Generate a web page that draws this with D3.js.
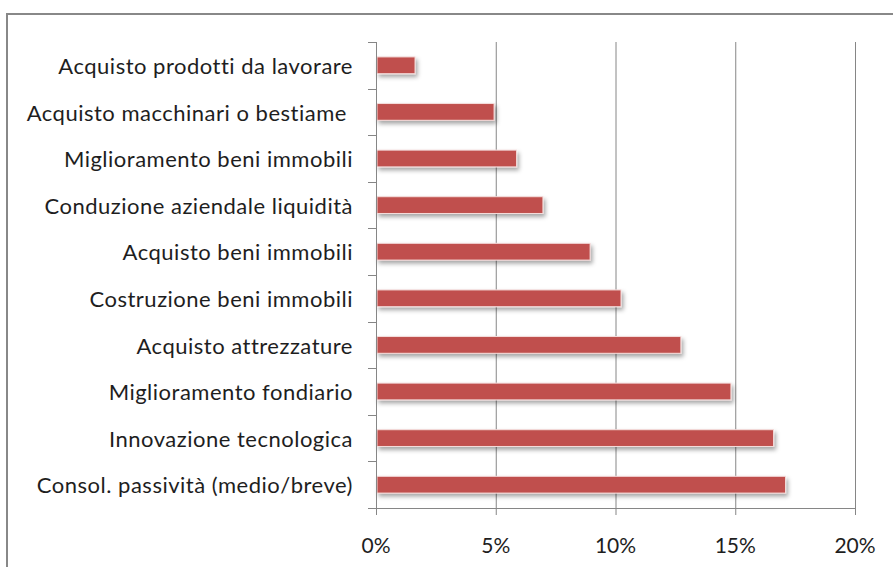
<!DOCTYPE html>
<html>
<head>
<meta charset="utf-8">
<script src="https://cdn.jsdelivr.net/npm/d3@7"></script>
<style>
  body { margin: 0; background: #fff; }
  svg text { font-family: Lato, "Open Sans", sans-serif; fill: #1e1e1e; white-space: pre; }
</style>
</head>
<body>
<div class="chart"></div>
<script>
var width = 893,
    height = 567;

var categories = [
    "Acquisto prodotti da lavorare",
    "Acquisto macchinari o bestiame ",
    "Miglioramento beni immobili",
    "Conduzione aziendale liquidità",
    "Acquisto beni immobili",
    "Costruzione beni immobili",
    "Acquisto attrezzature",
    "Miglioramento fondiario",
    "Innovazione tecnologica",
    "Consol. passività (medio/breve)"
];
var values = [1.63, 4.93, 5.87, 6.97, 8.94, 10.23, 12.73, 14.82, 16.6, 17.1];
var xTicks = [0, 5, 10, 15, 20];

var plotLeft = 376, plotRight = 855, plotTop = 42, plotBottom = 508;

var svg = d3.select(".chart")
    .append("svg")
    .attr("width", width)
    .attr("height", height);

// shadow for bars
var defs = svg.append("defs");
var f = defs.append("filter").attr("id", "shadow")
    .attr("x", "-10%").attr("y", "-50%").attr("width", "130%").attr("height", "250%");
f.append("feDropShadow")
    .attr("dx", 2).attr("dy", 3).attr("stdDeviation", 2.2)
    .attr("flood-color", "#000").attr("flood-opacity", 0.35);

// chart border
svg.append("rect")
    .attr("x", 7).attr("y", 14)
    .attr("width", 900).attr("height", 600)
    .attr("fill", "none")
    .attr("stroke", "#888")
    .attr("stroke-width", 2);

var x = d3.scaleLinear().domain([0, 20]).range([plotLeft, plotRight]);
var y = d3.scaleBand().domain(categories).range([plotTop, plotBottom]).paddingInner(0.64).paddingOuter(0.32);
var yb = d3.scaleBand().domain(categories).range([plotTop, plotBottom]);

// gridlines
svg.append("g")
    .selectAll("line")
    .data(xTicks.slice(1))
    .join("line")
    .attr("x1", d => x(d) + 0.5).attr("x2", d => x(d) + 0.5)
    .attr("y1", plotTop).attr("y2", plotBottom)
    .attr("stroke", "#868686")
    .attr("stroke-width", 1);

// bars
svg.append("g")
    .selectAll("rect")
    .data(values)
    .join("rect")
    .attr("x", x(0) + 1)
    .attr("y", (d, i) => y(categories[i]))
    .attr("width", d => x(d) - x(0) - 1)
    .attr("height", y.bandwidth())
    .attr("fill", "#C0504D")
    .attr("stroke", "#f4dcdb")
    .attr("stroke-width", 1)
    .attr("filter", "url(#shadow)");

// y axis
var yAxis = svg.append("g").attr("stroke", "#868686");
yAxis.append("line")
    .attr("x1", plotLeft + 0.5).attr("x2", plotLeft + 0.5)
    .attr("y1", plotTop).attr("y2", plotBottom + 7);
yAxis.selectAll(".ytick")
    .data(d3.range(categories.length + 1))
    .join("line")
    .attr("class", "ytick")
    .attr("x1", plotLeft - 8).attr("x2", plotLeft)
    .attr("y1", i => Math.round(plotTop + i * yb.step()) + 0.5)
    .attr("y2", i => Math.round(plotTop + i * yb.step()) + 0.5);

// x axis
var xAxis = svg.append("g").attr("stroke", "#868686");
xAxis.append("line")
    .attr("x1", plotLeft - 8).attr("x2", plotRight + 1)
    .attr("y1", plotBottom + 0.5).attr("y2", plotBottom + 0.5);
xAxis.selectAll(".xtick")
    .data(xTicks)
    .join("line")
    .attr("class", "xtick")
    .attr("x1", d => x(d) + 0.5).attr("x2", d => x(d) + 0.5)
    .attr("y1", plotBottom).attr("y2", plotBottom + 7);

// x tick labels
svg.append("g")
    .selectAll("text")
    .data(xTicks)
    .join("text")
    .attr("x", d => x(d))
    .attr("y", 553)
    .attr("text-anchor", "middle")
    .style("font-size", "21px")
    .text(d => d + "%");

// category labels
svg.append("g")
    .selectAll("text")
    .data(categories)
    .join("text")
    .attr("x", 353)
    .attr("y", d => yb(d) + yb.bandwidth() / 2 + 1)
    .attr("dy", "0.35em")
    .attr("text-anchor", "end")
    .style("font-size", "22px")
    .style("letter-spacing", "0.5px")
    .text(d => d);
</script>
</body>
</html>
